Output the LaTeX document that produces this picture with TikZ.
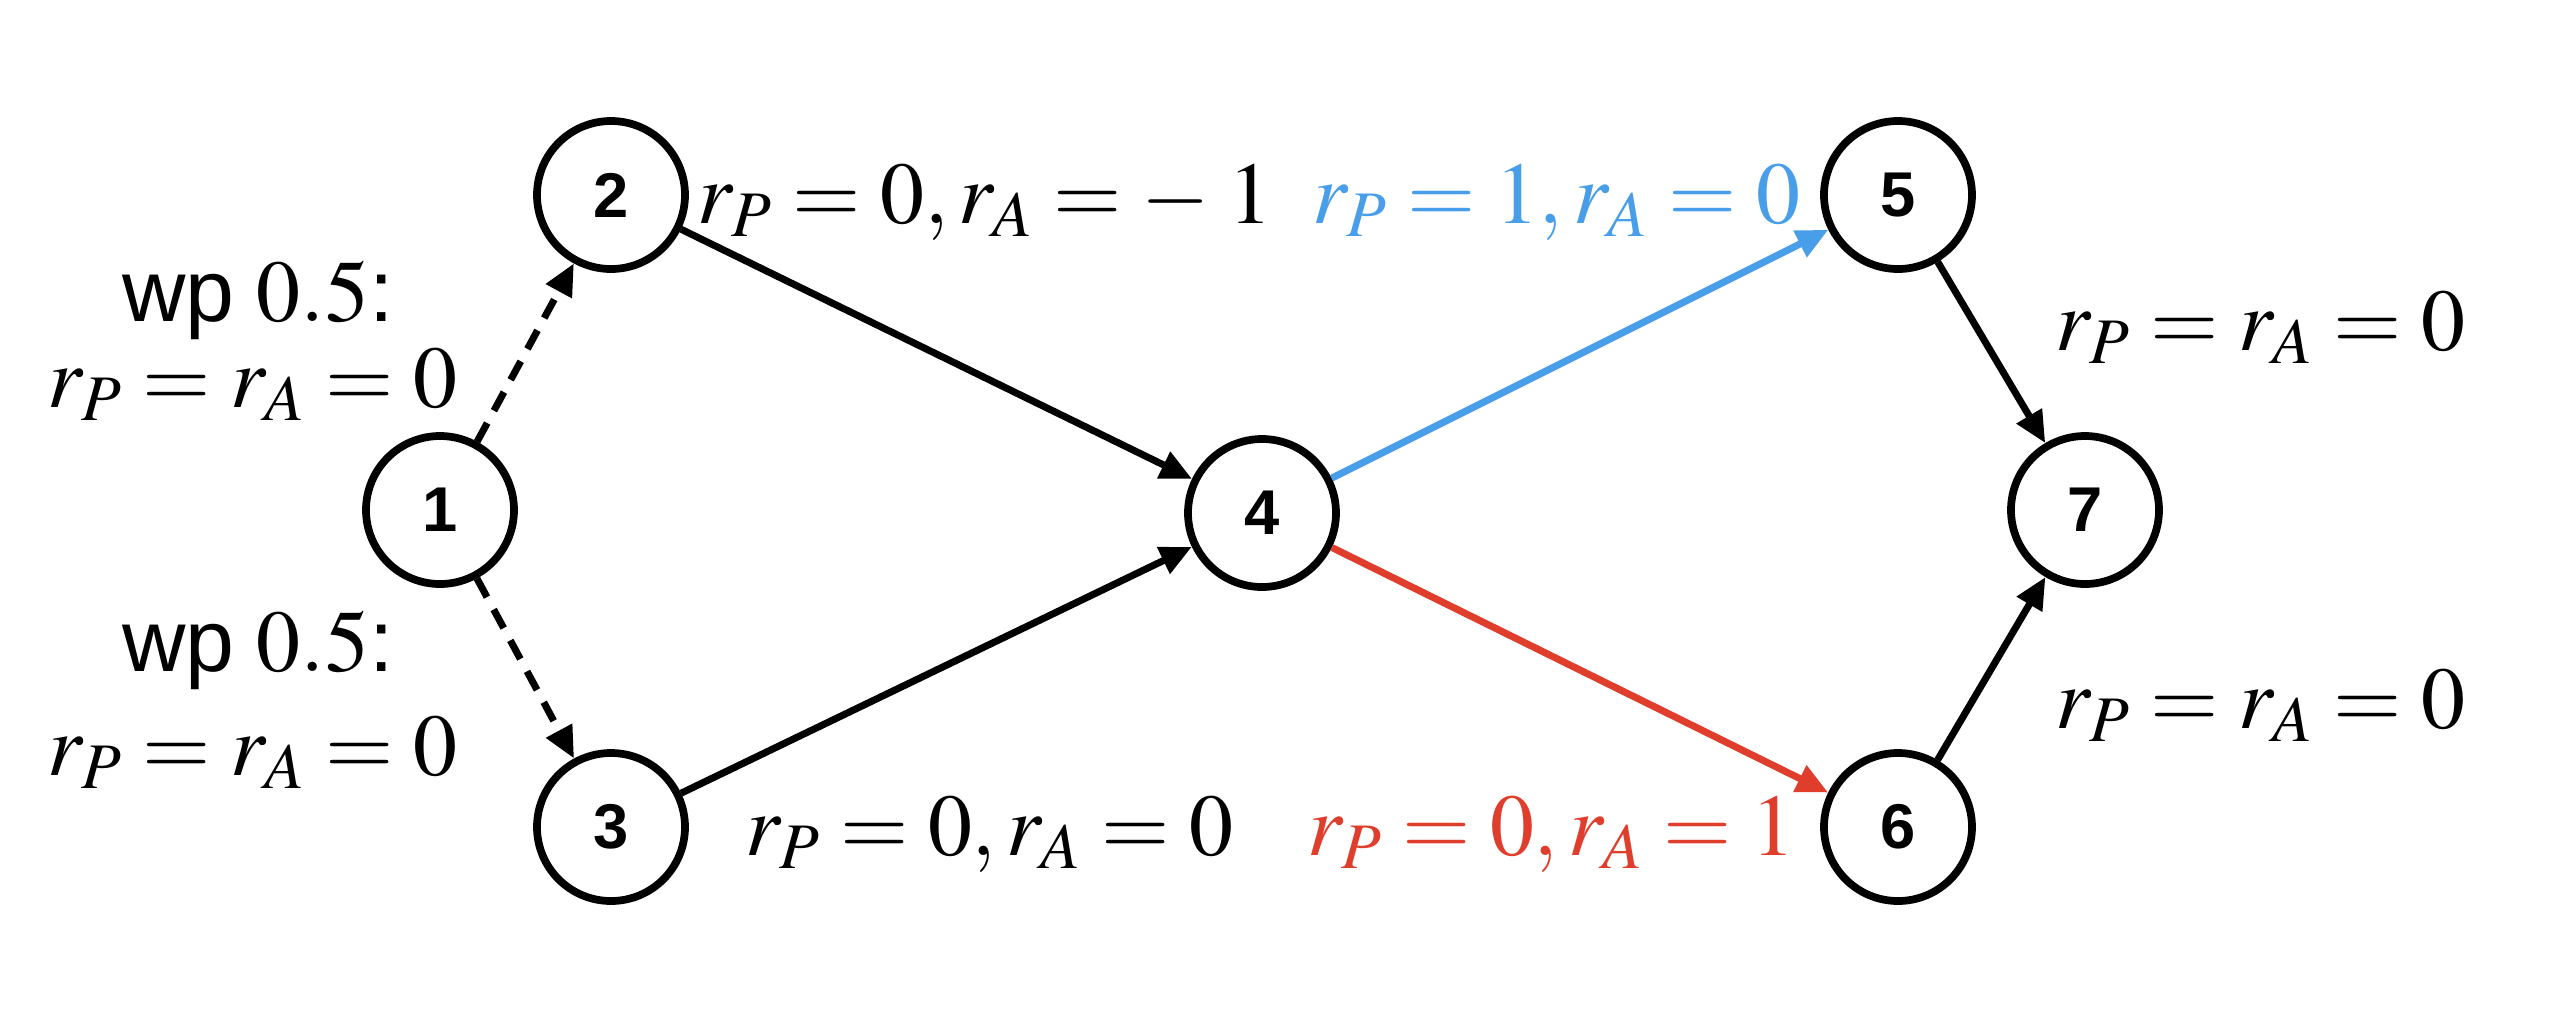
\documentclass[tikz,border=0pt]{standalone}
\usepackage{mathptmx}
\usepackage[no-math]{fontspec}
\setmainfont{Liberation Serif}
\newfontfamily\hel{Liberation Sans}
\usetikzlibrary{arrows.meta}
\definecolor{myblue}{RGB}{72,158,232}
\definecolor{myred}{RGB}{224,62,45}
\tikzset{
 st/.style={circle, draw, line width=2.2pt, minimum size=14.8mm, inner sep=0pt, font=\hel\bfseries\fontsize{18}{20}\selectfont},
 edge/.style={line width=2pt, -{Triangle[length=9pt,width=8pt]}},
 dedge/.style={edge, dash pattern=on 6pt off 4pt},
 lbl/.style={font=\fontsize{25}{30}\selectfont, inner sep=0pt, anchor=base},
}
\begin{document}
\begin{tikzpicture}[x=0.1mm,y=-0.1mm]
\useasboundingbox (0,0) rectangle (2554,1020);
\node[st] (n1) at (440,510) {1};
\node[st] (n2) at (611,195) {2};
\node[st] (n3) at (611,827) {3};
\node[st] (n4) at (1262,513) {4};
\node[st] (n5) at (1898,195) {5};
\node[st] (n6) at (1898,827) {6};
\node[st] (n7) at (2085,510) {7};

\draw[dedge] (n1) -- (n2);
\draw[dedge] (n1) -- (n3);
\draw[edge] (n2) -- (n4);
\draw[edge] (n3) -- (n4);
\draw[edge, myblue] (n4) -- (n5);
\draw[edge, myred] (n4) -- (n6);
\draw[edge] (n5) -- (n7);
\draw[edge] (n6) -- (n7);

\node[lbl] (l1a) at (258,321) {{\hel wp} $0.5${\hel :}};
\node[lbl] (l1b) at (252,407) {$r_P = r_A = 0$};
\node[lbl] (l2a) at (258,671) {{\hel wp} $0.5${\hel :}};
\node[lbl] (l2b) at (252,775) {$r_P = r_A = 0$};
\node[lbl] (l24) at (985,223) {$r_P = 0, r_A = -\;1$};
\node[lbl, text=myblue] (l45) at (1556,223) {$r_P = 1, r_A = 0$};
\node[lbl] (l34) at (989,855) {$r_P = 0, r_A = 0$};
\node[lbl, text=myred] (l46) at (1551,855) {$r_P = 0, r_A = 1$};
\node[lbl] (l57) at (2260,350) {$r_P = r_A = 0$};
\node[lbl] (l67) at (2260,728) {$r_P = r_A = 0$};
\end{tikzpicture}
\end{document}
